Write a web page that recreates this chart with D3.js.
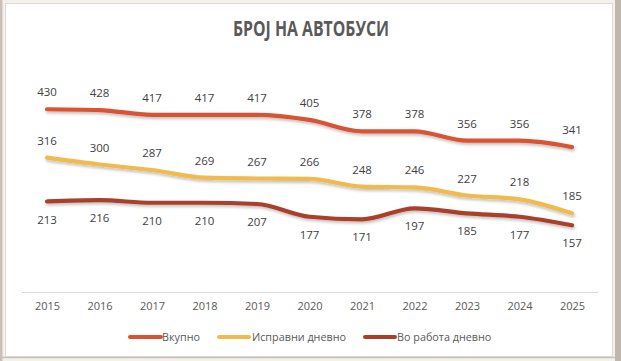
<!DOCTYPE html>
<html><head><meta charset="utf-8">
<script src="https://cdn.jsdelivr.net/npm/d3@7"></script>
<style>
html,body{margin:0;padding:0;background:#f4f1ec;}
svg{display:block;}
</style></head>
<body>
<svg id="chart" width="621" height="361"></svg>
<script>
const years = ["2015","2016","2017","2018","2019","2020","2021","2022","2023","2024","2025"];
const vkupno = [430,428,417,417,417,405,378,378,356,356,341];
const ispravni = [316,300,287,269,267,266,248,246,227,218,185];
const voRabota = [213,216,210,210,207,177,171,197,185,177,157];
const seriesNames = ["Вкупно","Исправни дневно","Во работа дневно"];
const seriesColors = ["#DA5230","#F1BA4E","#A9402A"];
const title = "БРОЈ НА АВТОБУСИ";

const series = [
  {name: seriesNames[0], values: vkupno, color: seriesColors[0], pos: "above"},
  {name: seriesNames[1], values: ispravni, color: seriesColors[1], pos: "above"},
  {name: seriesNames[2], values: voRabota, color: seriesColors[2], pos: "below"}
];

const svg = d3.select("#chart");
const W = 621, H = 361;

// frame
svg.append("rect").attr("x",0).attr("y",0).attr("width",W).attr("height",H).attr("fill","#f4f1ec");
svg.append("rect").attr("x",0).attr("y",0).attr("width",2.5).attr("height",H).attr("fill","#c9c1b9");
svg.append("rect").attr("x",615).attr("y",0).attr("width",6).attr("height",H).attr("fill","#bfb6ad");
svg.append("rect").attr("x",5.5).attr("y",3.5).attr("width",607).attr("height",353)
  .attr("fill","#ffffff").attr("stroke","#dedad5").attr("stroke-width",1);
svg.append("line").attr("x1",0).attr("x2",615).attr("y1",357.5).attr("y2",357.5)
  .attr("stroke","#c9c1b9").attr("stroke-width",1.5);

const defs = svg.append("defs");
const f = defs.append("filter").attr("id","shadow").attr("x","-5%").attr("y","-50%").attr("width","110%").attr("height","200%");
f.append("feDropShadow").attr("dx",1).attr("dy",2).attr("stdDeviation",1.5).attr("flood-color","#000").attr("flood-opacity",0.25);

// title
svg.append("text").attr("x",311).attr("y",35.5).attr("text-anchor","middle")
  .attr("font-family","'Open Sans', sans-serif").attr("font-weight","bold").attr("font-size",21)
  .attr("fill","#595959").attr("textLength",156).attr("lengthAdjust","spacingAndGlyphs").text(title);

const x = d3.scalePoint().domain(years).range([47,572]);
const y = d3.scaleLinear().domain([0,500]).range([292,79.5]);

// baseline axis
svg.append("line").attr("x1",22).attr("x2",598).attr("y1",292.5).attr("y2",292.5)
  .attr("stroke","#d9d9d9").attr("stroke-width",1);

const xAxis = d3.axisBottom(x).tickSize(0).tickPadding(0);
const gx = svg.append("g").attr("transform","translate(0,302)").call(xAxis);
gx.select(".domain").remove();
gx.selectAll("text").attr("font-family","'Open Sans', sans-serif").attr("font-size",11)
  .attr("fill","#595959").attr("dy","0.72em");

const line = d3.line().x((d,i)=>x(years[i])).y(d=>y(d)).curve(d3.curveMonotoneX);

series.forEach(s=>{
  svg.append("path").datum(s.values).attr("d",line).attr("fill","none")
    .attr("stroke",s.color).attr("stroke-width",4.2).attr("stroke-linecap","round")
    .attr("stroke-linejoin","round").attr("filter","url(#shadow)");
});

series.forEach(s=>{
  svg.append("g").selectAll("text").data(s.values).join("text")
    .attr("x",(d,i)=>x(years[i]))
    .attr("y",d=> s.pos==="above" ? y(d)-17 : y(d)+18)
    .attr("dy","0.35em")
    .attr("text-anchor","middle")
    .attr("font-family","'Open Sans', sans-serif").attr("font-size",11.5)
    .attr("fill","#404040")
    .text(d=>d);
});

// legend
const legendItems = [
  {x1:130, x2:161, tx:162},
  {x1:219, x2:249, tx:252},
  {x1:365, x2:395, tx:397}
];
const lg = svg.append("g");
series.forEach((s,i)=>{
  const it = legendItems[i];
  lg.append("line").attr("x1",it.x1).attr("x2",it.x2).attr("y1",337).attr("y2",337)
    .attr("stroke",s.color).attr("stroke-width",4).attr("stroke-linecap","round");
  lg.append("text").attr("x",it.tx).attr("y",337).attr("dy","0.35em")
    .attr("font-family","'Open Sans', sans-serif").attr("font-size",10.8)
    .attr("fill","#595959").text(s.name);
});
</script>
</body></html>
